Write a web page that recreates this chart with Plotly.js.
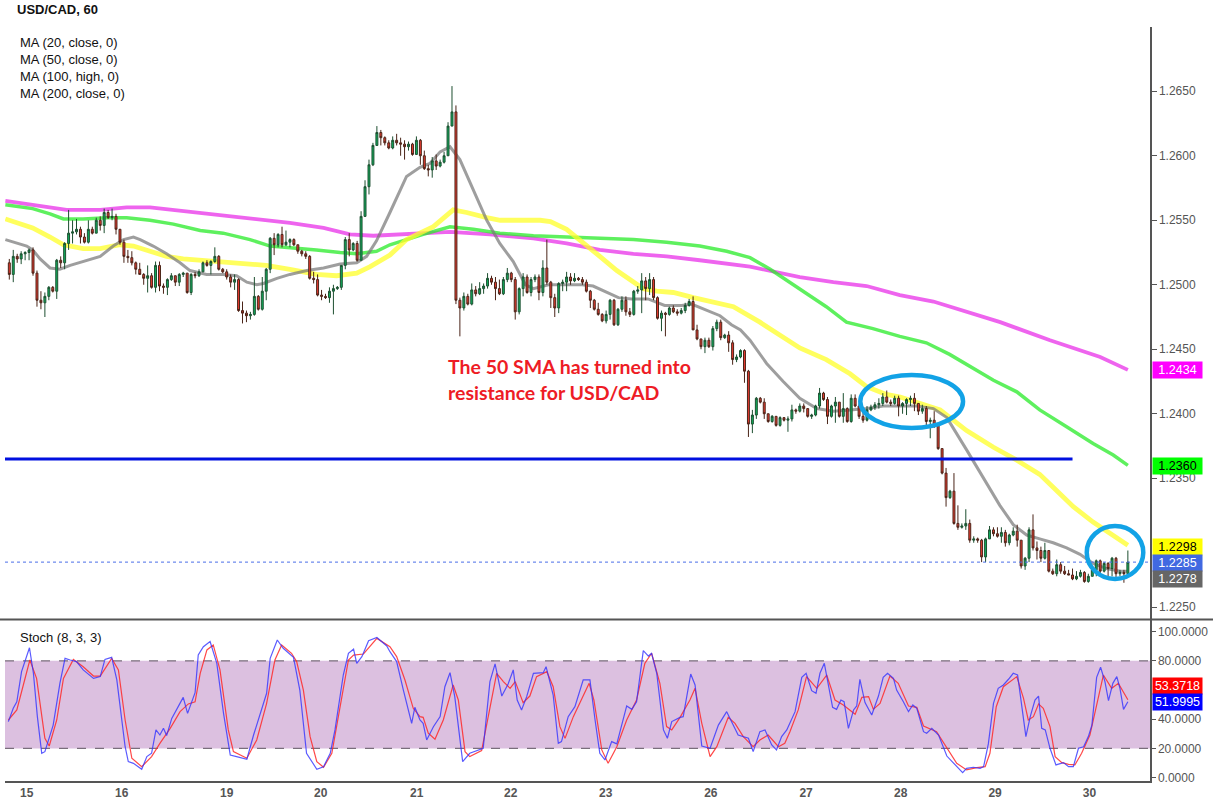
<!DOCTYPE html>
<html>
<head>
<meta charset="utf-8">
<script src="https://cdn.plot.ly/plotly-3.0.1.min.js"></script>
<style>
html,body{margin:0;padding:0;background:#fff;}
#chart{width:1213px;height:805px;}
</style>
</head>
<body>
<div id="chart"></div>
<script>
// ---------------- DATA (USD/CAD, 1 hour candles) ----------------
const firstOpen = 1.2517;
const closes = [
1.2508,1.2522,1.2520,1.2524,1.2525,1.2527,1.2509,1.2488,1.2486,1.2491,
1.2498,1.2495,1.2519,1.2517,1.2532,1.2540,1.2541,1.2543,1.2537,1.2533,
1.2543,1.2540,1.2550,1.2546,1.2556,1.2552,1.2553,1.2543,1.2533,1.2522,
1.2521,1.2517,1.2512,1.2508,1.2505,1.2507,1.2498,1.2515,1.2499,1.2498,
1.2504,1.2507,1.2502,1.2508,1.2509,1.2494,1.2508,1.2507,1.2510,1.2517,
1.2515,1.2518,1.2522,1.2512,1.2510,1.2506,1.2502,1.2504,1.2480,1.2478,
1.2476,1.2477,1.2491,1.2481,1.2495,1.2512,1.2536,1.2531,1.2539,1.2531,
1.2533,1.2535,1.2531,1.2526,1.2524,1.2522,1.2505,1.2504,1.2492,1.2491,
1.2490,1.2495,1.2497,1.2498,1.2515,1.2535,1.2527,1.2532,1.2519,1.2553,
1.2576,1.2593,1.2608,1.2618,1.2614,1.2610,1.2606,1.2612,1.2610,1.2609,
1.2607,1.2609,1.2601,1.2612,1.2600,1.2590,1.2589,1.2596,1.2592,1.2595,
1.2600,1.2623,1.2634,1.2488,1.2482,1.2491,1.2485,1.2496,1.2493,1.2497,
1.2499,1.2505,1.2502,1.2497,1.2493,1.2504,1.2509,1.2504,1.2479,1.2497,
1.2506,1.2494,1.2504,1.2506,1.2494,1.2513,1.2502,1.2490,1.2482,1.2501,
1.2502,1.2506,1.2503,1.2505,1.2504,1.2502,1.2495,1.2488,1.2481,1.2477,
1.2472,1.2477,1.2488,1.2469,1.2481,1.2488,1.2479,1.2477,1.2495,1.2496,
1.2503,1.2497,1.2504,1.2490,1.2474,1.2478,1.2477,1.2482,1.2479,1.2478,
1.2480,1.2484,1.2487,1.2465,1.2458,1.2452,1.2457,1.2452,1.2466,1.2471,
1.2459,1.2461,1.2455,1.2442,1.2444,1.2449,1.2433,1.2392,1.2399,1.2412,
1.2409,1.2400,1.2394,1.2398,1.2391,1.2397,1.2395,1.2396,1.2403,1.2402,
1.2406,1.2404,1.2398,1.2399,1.2406,1.2416,1.2411,1.2398,1.2406,1.2409,
1.2398,1.2404,1.2394,1.2412,1.2406,1.2398,1.2395,1.2403,1.2405,1.2407,
1.2408,1.2413,1.2409,1.2408,1.2412,1.2406,1.2408,1.2411,1.2412,1.2408,
1.2402,1.2404,1.2394,1.2395,1.2391,1.2373,1.2354,1.2335,1.2340,1.2315,
1.2312,1.2313,1.2315,1.2302,1.2303,1.2302,1.2289,1.2303,1.2310,1.2307,
1.2305,1.2308,1.2300,1.2306,1.2309,1.2302,1.2282,1.2288,1.2310,1.2296,
1.2294,1.2288,1.2294,1.2278,1.2276,1.2283,1.2278,1.2276,1.2275,1.2272,
1.2274,1.2277,1.2270,1.2274,1.2279,1.2286,1.2278,1.2284,1.2280,1.2288,
1.2276,1.2277,1.2276,1.2285];
const highs = [
1.2520,1.2527,1.2524,1.2526,1.2526,1.2528,1.2529,1.2511,1.2495,1.2494,
1.2499,1.2499,1.2520,1.2522,1.2533,1.2558,1.2550,1.2551,1.2545,1.2540,
1.2550,1.2545,1.2552,1.2553,1.2559,1.2558,1.2559,1.2555,1.2543,1.2535,
1.2527,1.2526,1.2518,1.2517,1.2509,1.2515,1.2509,1.2518,1.2518,1.2501,
1.2505,1.2509,1.2506,1.2509,1.2510,1.2509,1.2509,1.2510,1.2512,1.2518,
1.2519,1.2519,1.2529,1.2523,1.2513,1.2512,1.2508,1.2508,1.2505,1.2487,
1.2480,1.2479,1.2506,1.2492,1.2506,1.2513,1.2537,1.2540,1.2540,1.2545,
1.2542,1.2536,1.2536,1.2531,1.2527,1.2526,1.2523,1.2510,1.2508,1.2496,
1.2493,1.2498,1.2500,1.2499,1.2515,1.2537,1.2540,1.2533,1.2534,1.2557,
1.2581,1.2597,1.2610,1.2623,1.2620,1.2615,1.2612,1.2615,1.2617,1.2614,
1.2612,1.2611,1.2610,1.2615,1.2613,1.2604,1.2593,1.2599,1.2601,1.2597,
1.2603,1.2626,1.2654,1.2639,1.2490,1.2494,1.2493,1.2501,1.2499,1.2502,
1.2501,1.2509,1.2507,1.2506,1.2504,1.2506,1.2513,1.2510,1.2506,1.2498,
1.2509,1.2508,1.2506,1.2508,1.2508,1.2519,1.2535,1.2503,1.2493,1.2502,
1.2504,1.2510,1.2509,1.2509,1.2506,1.2506,1.2504,1.2496,1.2489,1.2486,
1.2478,1.2480,1.2489,1.2489,1.2482,1.2491,1.2491,1.2482,1.2496,1.2499,
1.2509,1.2506,1.2509,1.2506,1.2491,1.2480,1.2479,1.2483,1.2484,1.2481,
1.2482,1.2486,1.2489,1.2491,1.2469,1.2458,1.2459,1.2459,1.2468,1.2473,
1.2473,1.2462,1.2464,1.2457,1.2446,1.2450,1.2450,1.2434,1.2403,1.2413,
1.2413,1.2412,1.2400,1.2399,1.2398,1.2398,1.2397,1.2398,1.2407,1.2404,
1.2408,1.2408,1.2404,1.2400,1.2407,1.2420,1.2417,1.2413,1.2407,1.2413,
1.2409,1.2416,1.2405,1.2415,1.2415,1.2408,1.2402,1.2406,1.2407,1.2409,
1.2412,1.2416,1.2418,1.2411,1.2414,1.2414,1.2409,1.2412,1.2414,1.2416,
1.2408,1.2407,1.2406,1.2397,1.2402,1.2391,1.2373,1.2358,1.2341,1.2354,
1.2329,1.2315,1.2326,1.2318,1.2305,1.2304,1.2303,1.2304,1.2313,1.2312,
1.2312,1.2312,1.2310,1.2307,1.2312,1.2314,1.2301,1.2289,1.2312,1.2322,
1.2301,1.2297,1.2300,1.2294,1.2280,1.2287,1.2285,1.2282,1.2279,1.2280,
1.2278,1.2279,1.2278,1.2276,1.2280,1.2287,1.2287,1.2285,1.2285,1.2289,
1.2289,1.2279,1.2279,1.2294];
const lows = [
1.2504,1.2502,1.2517,1.2516,1.2519,1.2519,1.2507,1.2483,1.2481,1.2475,
1.2488,1.2494,1.2489,1.2513,1.2512,1.2527,1.2532,1.2539,1.2532,1.2532,
1.2532,1.2539,1.2540,1.2542,1.2540,1.2551,1.2550,1.2539,1.2531,1.2517,
1.2517,1.2515,1.2508,1.2508,1.2500,1.2494,1.2497,1.2494,1.2495,1.2493,
1.2492,1.2503,1.2499,1.2499,1.2506,1.2493,1.2492,1.2505,1.2506,1.2510,
1.2514,1.2508,1.2517,1.2511,1.2509,1.2504,1.2498,1.2496,1.2479,1.2470,
1.2471,1.2473,1.2476,1.2480,1.2480,1.2488,1.2509,1.2523,1.2529,1.2529,
1.2530,1.2529,1.2530,1.2524,1.2522,1.2520,1.2504,1.2501,1.2491,1.2488,
1.2489,1.2486,1.2477,1.2496,1.2496,1.2512,1.2522,1.2526,1.2518,1.2519,
1.2553,1.2570,1.2592,1.2608,1.2608,1.2608,1.2605,1.2605,1.2608,1.2600,
1.2597,1.2604,1.2600,1.2601,1.2593,1.2589,1.2584,1.2583,1.2589,1.2591,
1.2594,1.2600,1.2623,1.2485,1.2460,1.2480,1.2484,1.2484,1.2491,1.2492,
1.2493,1.2497,1.2500,1.2488,1.2492,1.2492,1.2502,1.2502,1.2473,1.2477,
1.2491,1.2493,1.2491,1.2502,1.2488,1.2491,1.2500,1.2482,1.2475,1.2478,
1.2495,1.2495,1.2500,1.2502,1.2503,1.2500,1.2494,1.2482,1.2480,1.2476,
1.2471,1.2470,1.2473,1.2468,1.2468,1.2479,1.2476,1.2475,1.2476,1.2493,
1.2478,1.2488,1.2492,1.2488,1.2473,1.2464,1.2460,1.2476,1.2478,1.2476,
1.2477,1.2478,1.2483,1.2465,1.2457,1.2450,1.2447,1.2451,1.2449,1.2464,
1.2457,1.2458,1.2448,1.2438,1.2440,1.2443,1.2424,1.2382,1.2385,1.2396,
1.2408,1.2396,1.2393,1.2393,1.2390,1.2390,1.2394,1.2386,1.2394,1.2400,
1.2401,1.2401,1.2397,1.2396,1.2398,1.2404,1.2410,1.2392,1.2397,1.2393,
1.2397,1.2393,1.2393,1.2393,1.2405,1.2396,1.2393,1.2394,1.2402,1.2403,
1.2404,1.2406,1.2408,1.2406,1.2407,1.2398,1.2400,1.2399,1.2406,1.2402,
1.2399,1.2400,1.2389,1.2381,1.2389,1.2372,1.2353,1.2328,1.2334,1.2314,
1.2310,1.2311,1.2310,1.2300,1.2300,1.2300,1.2285,1.2285,1.2303,1.2305,
1.2304,1.2300,1.2297,1.2298,1.2305,1.2297,1.2280,1.2279,1.2285,1.2294,
1.2287,1.2285,1.2287,1.2277,1.2275,1.2274,1.2276,1.2275,1.2275,1.2271,
1.2271,1.2273,1.2269,1.2269,1.2274,1.2274,1.2274,1.2277,1.2274,1.2274,
1.2271,1.2274,1.2269,1.2274];

// Day labels (hour index where each day starts)
const dayTicks = [4.40, 28.44, 55.01, 78.80, 103.09, 126.87, 150.91, 177.48, 201.59, 225.55, 249.41, 273.28];
const dayLabels = ['15','16','19','20','21','22','23','26','27','28','29','30'];
// 1.2300 sits under the value boxes in the reference, so it is not labelled
const priceTicks = [1.2250,1.2350,1.2400,1.2450,1.2500,1.2550,1.2600,1.2650];

// Moving averages (hour index, value)
const ma20Hours = [-1,0,4.4,5.9,7.8,10.3,12.8,15.4,18.7,23,26.3,28.9,31.4,33.1,36.4,39.8,43.2,45.7,49.9,54.1,57.5,60.1,62.6,64.3,67.7,71,75.3,79.5,83.7,87.9,90.4,92.9,96.3,100.5,103.9,106.4,109,111.5,114,117.4,120.8,124.1,127.5,130.6,132.6,136.4,140.6,144.9,147.7,150.7,154.1,157.4,161.6,165.8,170.1,172.6,176,179.8,182.7,185,187.4,191.6,195.8,200,204.3,208.5,212.7,216.9,221.1,225.3,229.5,233.8,237.2,242.2,246.4,250.6,254,257.4,260.7,264.1,267.5,270.9,274.2,277.6,281,283];
const ma20Values = [1.2535,1.2534,1.2530,1.2527,1.2520,1.2513,1.2512,1.2515,1.2518,1.2522,1.2530,1.2535,1.2537,1.2535,1.2530,1.2524,1.2517,1.2511,1.2508,1.2508,1.2507,1.2502,1.2500,1.2501,1.2505,1.2508,1.2511,1.2513,1.2516,1.2517,1.2522,1.2534,1.2556,1.2584,1.2591,1.2594,1.2603,1.2607,1.2597,1.2574,1.2550,1.2532,1.2518,1.2500,1.2497,1.2500,1.2500,1.2500,1.2499,1.2495,1.2490,1.2489,1.2489,1.2484,1.2484,1.2485,1.2481,1.2476,1.2469,1.2465,1.2457,1.2439,1.2425,1.2412,1.2404,1.2402,1.2403,1.2404,1.2406,1.2406,1.2406,1.2404,1.2397,1.2372,1.2351,1.2329,1.2314,1.2306,1.2303,1.2300,1.2296,1.2291,1.2284,1.2280,1.2278,1.2278];
const ma50Hours = [-1,5.9,10.3,13.7,18.7,23,28,31.4,35.6,39.8,44,48.3,54.1,58.3,65,71,77.7,82.8,87.9,91.3,96.3,100.5,107.3,112.3,115.7,120.8,124.2,134.3,136.9,141,145.2,149.4,153.7,157.9,160.4,163.8,168,173.1,179,183.2,189.9,195.8,200,206.7,212.7,216.9,221.9,225.4,230.5,235.5,242.2,249,254.9,260.7,264.1,269.2,274.2,279.3,283];
const ma50Values = [1.2551,1.2544,1.2537,1.2531,1.2528,1.2528,1.2531,1.2530,1.2526,1.2522,1.2520,1.2519,1.2518,1.2517,1.2515,1.2512,1.2508,1.2507,1.2509,1.2514,1.2523,1.2535,1.2545,1.2558,1.2556,1.2552,1.2550,1.2550,1.2549,1.2543,1.2533,1.2522,1.2511,1.2502,1.2497,1.2495,1.2494,1.2490,1.2486,1.2483,1.2471,1.2459,1.2451,1.2442,1.2431,1.2421,1.2415,1.2413,1.2408,1.2403,1.2387,1.2374,1.2364,1.2353,1.2343,1.2328,1.2316,1.2306,1.2298];
const ma100Hours = [-1,5.9,10.3,13.7,18.7,24.7,29.7,35.6,41.5,48.3,54.1,60.9,66,71,77.7,83.7,87.9,92.9,96.3,104.7,111.5,117.4,124.1,132.6,141,149.4,157.9,166.3,174.7,181.5,187.4,192.5,200,206.7,211.8,218.5,225.3,232,237.9,249,254.9,260.7,267.5,274.2,279.3,283];
const ma100Values = [1.2562,1.2559,1.2555,1.2551,1.2551,1.2552,1.2552,1.2550,1.2547,1.2542,1.2540,1.2535,1.2530,1.2529,1.2527,1.2525,1.2524,1.2526,1.2531,1.2539,1.2545,1.2543,1.2540,1.2538,1.2537,1.2536,1.2535,1.2533,1.2530,1.2526,1.2521,1.2512,1.2497,1.2483,1.2471,1.2466,1.2460,1.2455,1.2446,1.2426,1.2417,1.2403,1.2390,1.2377,1.2368,1.2360];
const ma200Hours = [-1,5.9,14.5,23,29.7,35.6,41.5,48.3,58.3,71,79.5,86.2,92.1,100.5,111.5,121.6,132.6,141,149.4,157.9,166.3,174.7,187.4,200,208.5,216.9,225.3,233.8,237.9,250.7,263.3,276,283];
const ma200Values = [1.2565,1.2562,1.2558,1.2558,1.2560,1.2560,1.2558,1.2556,1.2553,1.2548,1.2544,1.2539,1.2538,1.2539,1.2541,1.2539,1.2536,1.2532,1.2527,1.2524,1.2522,1.2519,1.2514,1.2506,1.2502,1.2499,1.2492,1.2487,1.2483,1.2471,1.2457,1.2444,1.2434];

// Stochastic (8,3,3)
const stochKHours = [-0.24,1.0,1.9,3.1,5.1,6.1,7.1,8.2,9.0,11.1,12.8,14.1,15.4,17.0,18.7,21.3,23,24.2,25.9,27.2,29.3,30.1,31.4,33.5,34.8,36.0,37.1,38.1,39.0,39.8,41.1,42.4,44.0,45.1,46.2,47.0,47.8,49.1,50.8,52.5,54.2,55.9,57.5,60.1,61.8,63.4,65.1,66.0,67.8,69.3,71.9,73.5,75.2,77.8,79.5,81.2,82.4,84.5,85.8,87.1,87.9,89.2,90.9,93,95.5,96.3,98,99.7,101.8,102.6,103.9,104.7,105.6,107.3,109,110.2,111.5,112.7,114.7,116.5,118.7,119.9,121.6,122.9,124.6,126.2,127.5,128.5,129.6,130.9,132.6,135.1,135.8,137.6,138.9,139.7,141.4,143.1,145.2,146.9,148.2,149.4,150.7,152.4,153.7,156.2,157.5,158.7,160.4,161.7,162.5,163.8,165.5,166.5,167.6,169.7,170.5,172.4,173.5,175.2,177.3,179.4,181.5,182.8,184.4,187,188.2,189.9,191.2,192.9,194.1,195.4,196.7,198.8,200.5,201.6,203,204.1,205.1,206.2,208.3,209.3,210.4,211.2,212.3,213.6,214.4,215.2,216.5,218.2,219.9,221.1,222.2,223.7,224.5,226.2,227.5,228.6,229.6,231.3,232.1,233.4,235.1,237.2,238.9,241.2,242.2,243.9,245.6,246.5,247.7,249,250.2,251.5,252.8,254,255.1,256.2,257.2,258.3,259.5,260.4,261.2,262.1,263.3,264.8,266.7,268,269.2,270.5,271.8,273,273.9,275.1,276.1,277.2,278.1,279.2,280.2,281,281.9,283];
const stochKValues = [38.4,47.5,52,72.6,89,71.5,41.8,16.7,17.8,36,64.6,81.7,80.6,79.5,73.8,68,69.2,81,82.4,67,21.2,11,9.8,5.7,14.4,16.7,32.7,29.2,33.8,28.8,40.6,47.5,55,44,52,58.2,84,89.7,93.2,78.3,44,15.5,14.4,12.6,29.2,42.9,57.8,81.7,94.3,88.6,82.4,60,16.7,5.7,7.5,16.7,32.7,70.3,85.2,88,78.3,82.9,93.8,96,90.2,86.3,79.5,60,37.2,48.2,39.5,37.2,25.8,34.9,41.8,62.3,71.9,55.5,11,16.7,19,20.1,65.8,77.9,55.9,64.2,73.8,53.2,46.4,55.5,71.5,71.9,76,56.6,23.5,24.7,41.8,48.6,67,67,39.5,16.7,12.1,24.7,23.1,49.1,46.8,52,87,83.3,85.2,71.5,32.7,27,38.4,41.3,41.8,71,63.5,21.7,20.1,36,45.2,38.4,29.2,27,17.8,31.5,32.7,22.4,19,28.1,32.7,45.2,68.7,71.5,59.6,57.8,71.5,78.3,48.2,46.8,53.2,52,33.8,46.4,49.1,67.4,51.4,42.9,55.9,68.7,71.5,68,60,52,45.2,49.8,47.5,31.5,30.4,33.8,29.2,14.8,9.8,3.4,6.4,7.1,6.4,7.5,23.1,50.9,61.2,63.5,67.4,71.5,70.3,49.8,28.1,41.8,53.2,55.9,33.8,32.7,20.1,8.7,10.3,7.5,7.5,20.1,21.2,28.1,36,68.7,75.6,65.8,52.8,64.6,69.2,61.2,46.8,52.0];
const stochDHours = [-0.24,1.9,5.2,6.9,9.0,10.1,12.0,13.7,16.2,18.7,21.3,23,25.9,27.6,29.3,31.0,33.5,36.0,38.1,40.7,43.2,45.3,47.0,48.3,50.0,51.6,53.3,55.4,56.7,60.1,62.6,65.1,67.2,68.9,71.4,72.7,74.4,76.1,77.8,79.5,81.6,83.7,85.8,87.1,89.6,93,96.3,98,100.1,102.2,103.9,104.7,106,107.7,109.8,112.3,113.6,115.3,116.5,119.5,121.2,123.3,125,126.7,128,130.0,131.7,133.4,136,137.6,139.3,140.6,142.7,144.8,146.7,147.9,149.9,151.5,153.7,156.2,158.7,160.8,162.5,164.6,166.3,167.6,169.7,172.2,173.5,175.2,177.3,179,181.9,183.6,185.7,188.2,189.9,192,194.6,196.2,197.5,199.6,201.7,204.3,206.8,208.9,211,214,215.7,217.4,218.6,220.3,222.8,224.9,227.5,229.6,231.3,234.6,237.2,239.7,242.2,244.8,246.9,248.1,249.7,251.5,254.9,256.6,257.8,259.1,260.4,261.6,263.3,264.6,266.3,268,269.6,271.3,273.4,275.1,276.8,278.9,280.6,283];
const stochDValues = [39.5,46.4,80.6,68,27,21.7,39.5,68,81,76,69.6,69.6,81.7,73.8,39.5,13.3,7.5,14.4,23.5,33.8,45.2,50.5,52,71.5,87.5,90.9,73.8,32.7,17.8,13.3,25.8,50.9,80.6,90.9,85.2,79.5,60,28.1,11,7.1,16.7,48.6,80.6,84,84.7,95.4,89.7,82.9,66.9,47.5,41.8,41.3,30.4,26.3,39.5,63.5,53.2,17.8,14.4,18.5,41.8,71.5,65.8,61.2,65.8,51.4,55.9,69.2,72.6,62.3,34.9,26.9,41.8,53.2,64.6,53.2,19,9.8,21.2,39.5,53.2,78.3,85.2,64.6,35,32.7,41.3,53.2,61.2,37.2,14.4,21.2,41.3,37.2,28.1,21.2,25.8,29.2,21.2,23.5,31.5,46.4,69.2,61.2,70.3,53.2,49.8,43.4,55,55.5,46.8,50.9,69.6,64.6,49.1,48.2,35.4,31.5,20.1,9.8,5.3,6.9,7.5,16.7,48.6,62.3,69.2,54.3,39.5,41.8,50.5,47.5,35,14.4,10.3,9.1,8.7,16.7,29.2,49.8,70.3,61.2,64.6,53.37];

// Drawn level, highlighted zones, right-edge value labels
const levelPrice = 1.2365, levelEndHour = 269;
const zone1 = {h0: 215.3, h1: 241.3, p0: 1.2389, p1: 1.2430};
const zone2 = {h0: 272.6, h1: 286.9, p0: 1.2272, p1: 1.2313};
const priceLabels = ['1.2434','1.2360','1.2298','1.2285','1.2278'];
const stochLabels = ['53.3718','51.9995'];
const maLegend = ['MA (20, close, 0)','MA (50, close, 0)','MA (100, high, 0)','MA (200, close, 0)'];
const noteLines = ['The 50 SMA has turned into','resistance for USD/CAD'];

// ---------------- BUILD ----------------
const hours = closes.map((_, i) => i);
const opens = closes.map((c, i) => i === 0 ? firstOpen : closes[i - 1]);
const hi = highs.map((h, i) => Math.max(h, opens[i], closes[i]));
const lo = lows.map((l, i) => Math.min(l, opens[i], closes[i]));

const priceRange = [1.22409, 1.26998];
const W = 1213, H = 805, ML = 5, MR = 63, MT = 27, MB = 24;
const PW = W - ML - MR, PH = H - MT - MB;
const px2x = px => (px - ML) / PW;
const px2y = py => (H - MB - py) / PH;

function ma(x, y, color, width) {
  return {type: 'scatter', mode: 'lines', x: x, y: y, xaxis: 'x', yaxis: 'y',
    line: {color: color, width: width}, hoverinfo: 'skip'};
}

const traces = [
  ma(ma200Hours, ma200Values, 'rgba(232,40,232,0.72)', 3.8),
  ma(ma100Hours, ma100Values, 'rgba(40,235,40,0.75)', 3.5),
  ma(ma50Hours, ma50Values, 'rgba(255,255,40,0.75)', 4.8),
  ma(ma20Hours, ma20Values, 'rgba(120,120,120,0.72)', 3),
  {type: 'candlestick', x: hours, open: opens, high: hi, low: lo, close: closes,
   xaxis: 'x', yaxis: 'y3', whiskerwidth: 0, hoverinfo: 'skip',
   increasing: {line: {color: '#1d4f30', width: 1}, fillcolor: '#0fae5c'},
   decreasing: {line: {color: '#4a2418', width: 1}, fillcolor: '#ea3b30'}},
  {type: 'scatter', mode: 'lines', x: stochDHours, y: stochDValues, xaxis: 'x', yaxis: 'y2',
   line: {color: 'rgba(255,40,40,0.85)', width: 1.2}, hoverinfo: 'skip'},
  {type: 'scatter', mode: 'lines', x: stochKHours, y: stochKValues, xaxis: 'x', yaxis: 'y2',
   line: {color: 'rgba(50,50,255,0.8)', width: 1.2}, hoverinfo: 'skip'}
];

const lastClose = closes[closes.length - 1];
const shapes = [
  {type: 'rect', xref: 'paper', x0: 0, x1: 1, yref: 'y2', y0: 20, y1: 80,
   fillcolor: '#dcc0e0', line: {width: 0}, layer: 'below'},
  {type: 'line', xref: 'paper', x0: 0, x1: 1, yref: 'y2', y0: 80, y1: 80,
   line: {color: '#7a6e7c', width: 1.3, dash: 'dash'}, layer: 'below'},
  {type: 'line', xref: 'paper', x0: 0, x1: 1, yref: 'y2', y0: 20, y1: 20,
   line: {color: '#7a6e7c', width: 1.3, dash: 'dash'}, layer: 'below'},
  {type: 'line', xref: 'paper', x0: px2x(0), x1: px2x(W), yref: 'paper', y0: px2y(619.5), y1: px2y(619.5),
   line: {color: '#555', width: 2}},
  {type: 'line', xref: 'paper', x0: 0, x1: 1, yref: 'y', y0: lastClose, y1: lastClose,
   line: {color: '#4a6ee8', width: 1, dash: 'dot'}},
  {type: 'line', xref: 'x', x0: -1.09, x1: levelEndHour, yref: 'y', y0: levelPrice, y1: levelPrice,
   line: {color: '#0010e0', width: 3}},
  {type: 'circle', xref: 'x', yref: 'y', x0: zone1.h0, x1: zone1.h1, y0: zone1.p0, y1: zone1.p1,
   line: {color: '#12a2e6', width: 4.5}},
  {type: 'circle', xref: 'x', yref: 'y', x0: zone2.h0, x1: zone2.h1, y0: zone2.p0, y1: zone2.p1,
   line: {color: '#12a2e6', width: 4.5}}
];

const txt = (text, xp, yp, opts) => Object.assign({
  text: text, xref: 'paper', yref: 'paper', x: px2x(xp), y: px2y(yp),
  xanchor: 'left', yanchor: 'middle', showarrow: false,
  font: {family: 'Liberation Sans, Arial, sans-serif', size: 13, color: '#111'}
}, opts || {});

const noteFont = {family: 'Lato, sans-serif', size: 19.5, color: '#ee1c25', weight: 'bold'};
const annotations = [
  txt('<b>USD/CAD, 60</b>', 15, 10),
  txt(maLegend[0], 18, 42.5),
  txt(maLegend[1], 18, 59.5),
  txt(maLegend[2], 18, 76.5),
  txt(maLegend[3], 18, 93.5),
  txt('Stoch (8, 3, 3)', 18, 637),
  txt(noteLines[0], 446, 367, {font: noteFont}),
  txt(noteLines[1], 446, 392, {font: noteFont})
];
const boxes = [
  [priceLabels[0], 370, '#ff00ff', '#fff'],
  [priceLabels[1], 466, '#00ff00', '#000'],
  [priceLabels[2], 547, '#ffff00', '#000'],
  [priceLabels[3], 563, '#4169e1', '#fff'],
  [priceLabels[4], 579, '#666666', '#fff'],
  [stochLabels[0], 686, '#ff0000', '#fff'],
  [stochLabels[1], 702, '#0000ff', '#fff']
];
boxes.forEach(b => annotations.push(txt(b[0], 1151.5, b[1], {
  bgcolor: b[2], width: 45, height: 12, borderpad: 2, align: 'center',
  font: {family: 'Liberation Sans, Arial, sans-serif', size: 12.5, color: b[3]}
})));

const axisFont = {family: 'Liberation Sans, Arial, sans-serif', size: 12, color: '#555'};
const layout = {
  width: W, height: H,
  margin: {l: ML, r: MR, t: MT, b: MB, pad: 0},
  paper_bgcolor: '#fff', plot_bgcolor: '#fff',
  showlegend: false, hovermode: false, dragmode: false,
  boxgap: 0.3,
  font: axisFont,
  xaxis: {range: [-1.09, 288.6], anchor: 'y2', tickmode: 'array', tickvals: dayTicks, ticktext: dayLabels,
    showgrid: false, zeroline: false, showline: true, linecolor: '#555', linewidth: 2,
    ticks: '', tickfont: {family: axisFont.family, size: 12, color: '#555', weight: 'bold'},
    rangeslider: {visible: false}, fixedrange: true},
  yaxis: {domain: [px2y(619), 1], range: priceRange, side: 'right', anchor: 'x',
    tickmode: 'array', tickvals: priceTicks, tickformat: '.4f',
    showgrid: false, zeroline: false, showline: true, linecolor: '#555', linewidth: 1.5,
    ticks: 'outside', ticklen: 5, tickcolor: '#555', tickfont: axisFont, fixedrange: true},
  yaxis3: {overlaying: 'y', anchor: 'x', range: priceRange, visible: false, side: 'right', fixedrange: true},
  yaxis2: {domain: [0, px2y(620)], range: [-2.3, 108], side: 'right', anchor: 'x',
    tickmode: 'array', tickvals: [0, 20, 40, 80, 100],
    ticktext: ['0.0000', '20.0000', '40.0000', '80.0000', '100.0000'],
    showgrid: false, zeroline: false, showline: true, linecolor: '#555', linewidth: 1.5,
    ticks: 'outside', ticklen: 4, tickcolor: '#555', tickfont: axisFont, fixedrange: true},
  shapes: shapes,
  annotations: annotations
};

Plotly.newPlot('chart', traces, layout, {displayModeBar: false, staticPlot: true});
</script>
</body>
</html>
